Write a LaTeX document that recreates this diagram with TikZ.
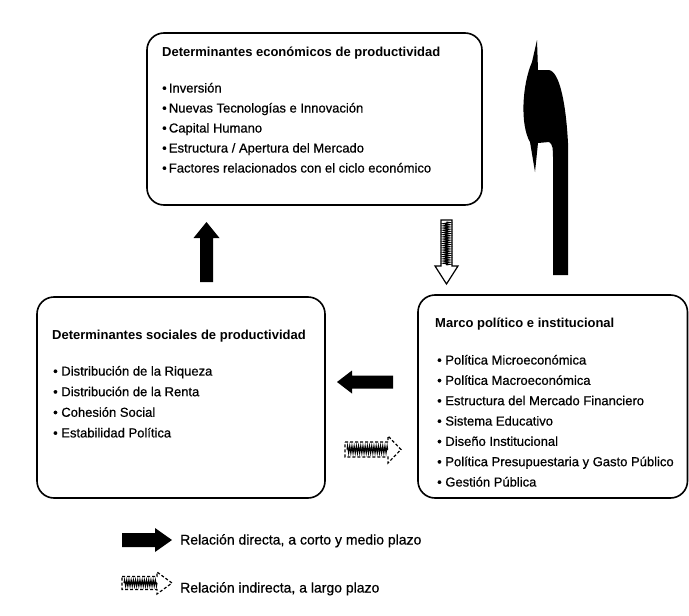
\documentclass[tikz,border=0pt]{standalone}
\usepackage{fontspec}
\setmainfont{Liberation Sans}
\newfontfamily\itmfont{Liberation Sans}[FakeBold=0.6]
\usetikzlibrary{decorations.pathmorphing}
\begin{document}
\begin{tikzpicture}[x=1pt,y=-1pt,
  box/.style={draw, line width=1.6pt, rounded corners=17pt, inner sep=0pt},
  ttl/.style={anchor=base west, inner sep=0pt, font=\fontsize{13}{15}\selectfont\bfseries},
  itm/.style={anchor=base west, inner sep=0pt, font=\fontsize{13}{15}\selectfont\itmfont},
  leg/.style={anchor=base west, inner sep=0pt, font=\fontsize{14}{16}\selectfont\itmfont},
  stripedarrow/.style={draw, line width=1.2pt, fill=white},
  zz/.style={decorate, decoration={zigzag, segment length=2.2pt, amplitude=3.5pt}, line width=1.1pt}
]
\useasboundingbox (0,0) rectangle (689,616);

% boxes
\node[box, minimum width=335pt, minimum height=172pt] (eco) at (314.5,119) {};
\node[box, minimum width=288pt, minimum height=201pt] (soc) at (181,397.5) {};
\node[box, minimum width=269.5pt, minimum height=203pt] (pol) at (552.75,396.5) {};

% top box text
\node[ttl] (ecoT) at (162,56.5) {Determinantes económicos de productividad};
\foreach \t [count=\i] in {Inversión,Nuevas Tecnologías e Innovación,Capital Humano,Estructura / Apertura del Mercado,Factores relacionados con el ciclo económico}
  \node[itm] (eco\i) at (162,72.5+20*\i) {•\,\t};

% left box text
\node[ttl] (socT) at (52,339.5) {Determinantes sociales de productividad};
\foreach \t [count=\i] in {Distribución de la Riqueza,Distribución de la Renta,Cohesión Social,Estabilidad Política}
  \node[itm] (soc\i) at (53,355+20.6*\i) {• \t};

% right box text
\node[ttl] (polT) at (435,327.5) {Marco político e institucional};
\foreach \t [count=\i] in {Política Microeconómica,Política Macroeconómica,Estructura del Mercado Financiero,Sistema Educativo,Diseño Institucional,Política Presupuestaria y Gasto Público,Gestión Pública}
  \node[itm] (pol\i) at (437,344.2+20.33*\i) {• \t};

% up arrow (social -> economic)
\coordinate (aLtail) at (206.5,282);
\coordinate (aLtip) at (206.5,222);
\fill (aLtail) ++(-6.5,0) -- ++(0,-44) -- ++(-6.5,0) -- (aLtip) -- ++(13,16) -- ++(-6.5,0) -- ++(0,44) -- cycle;

% down striped arrow (economic -> political)
\coordinate (aDtail) at (446.5,220);
\coordinate (aDtip) at (446.5,284);
\draw[stripedarrow] (aDtail) ++(-5.5,0) -- ++(0,46) -- ++(-6,0) -- (aDtip) -- ++(11.5,-18) -- ++(-6,0) -- ++(0,-46) -- cycle;
\draw[zz, decoration={amplitude=3pt}] (aDtail) ++(0,2) -- ++(0,43);

% left black arrow (political -> social)
\coordinate (aBtail) at (393,382);
\coordinate (aBtip) at (337,382);
\fill (aBtail) ++(0,-6.5) -- ++(-41,0) -- ++(0,-5) -- (aBtip) -- ++(15,11.5) -- ++(0,-5) -- ++(41,0) -- cycle;

% right striped arrow (social -> political)
\coordinate (aStail) at (345,449.5);
\coordinate (aStip) at (401,449.5);
\draw[stripedarrow, densely dashed] (aStail) ++(0,-7.5) -- ++(43,0) -- ++(0,-6) -- (aStip) -- ++(-13,13.5) -- ++(0,-6) -- ++(-43,0) -- cycle;
\draw[zz] (aStail) ++(2,0) -- ++(41,0);

% big up arrow (political -> economic)
\coordinate (aRtail) at (560,275);
\coordinate (aRtip) at (537,40);
\fill (553,275) -- (568,275) -- (568,143) .. controls (566,105) and (560,72) .. (549,70) -- (538,70) -- (aRtip) -- (532,62) .. controls (522,85) and (520,125) .. (530,142) -- (535,172) -- (538,143) -- (549,142) .. controls (553,144) and (553,150) .. (553,158) -- cycle;

% legend
\coordinate (lg1tail) at (122,540);
\coordinate (lg1tip) at (172,540);
\fill (lg1tail) ++(0,-7) -- ++(33,0) -- ++(0,-5) -- (lg1tip) -- ++(-17,12) -- ++(0,-5) -- ++(-33,0) -- cycle;
\node[leg] (lg1) at (180,544.5) {Relación directa, a corto y medio plazo};

\coordinate (lg2tail) at (122,583);
\coordinate (lg2tip) at (172,583);
\draw[stripedarrow, densely dashed] (lg2tail) ++(0,-6.5) -- ++(35,0) -- ++(0,-4.5) -- (lg2tip) -- ++(-15,11) -- ++(0,-4.5) -- ++(-35,0) -- cycle;
\draw[zz, decoration={amplitude=3pt}] (lg2tail) ++(2,0) -- ++(33,0);
\node[leg] (lg2) at (180,592.5) {Relación indirecta, a largo plazo};
\end{tikzpicture}
\end{document}
